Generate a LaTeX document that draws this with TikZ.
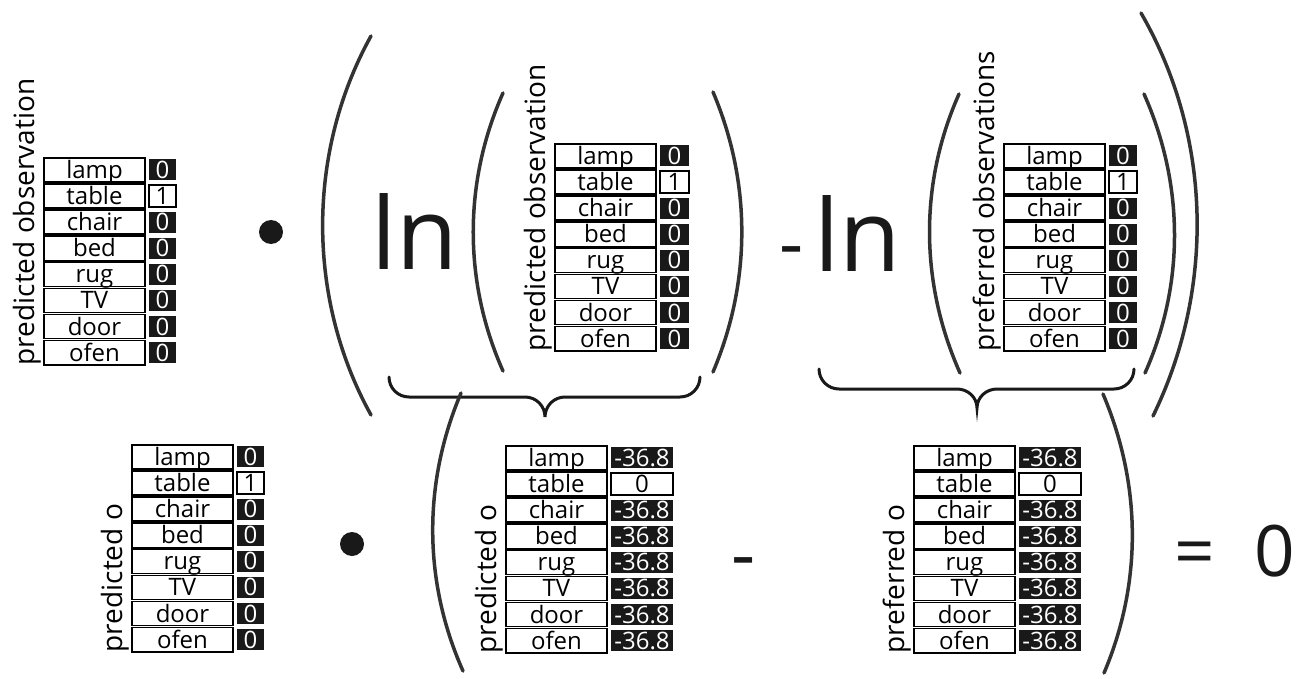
\documentclass[tikz,border=0pt]{standalone}
\usepackage{fontspec}
\setmainfont{Open Sans}
\usepackage{tikz}
\usetikzlibrary{positioning}
\tikzset{
  cellfont/.style={font=\fontsize{24}{28}\selectfont},
  namecell/.style={cellfont, draw, line width=1.6pt, fill=white, minimum width=101pt,
    minimum height=24.2pt, inner sep=0pt, text height=17pt, text depth=0pt},
  offcell/.style={cellfont, fill=black!90, text=white, minimum height=21pt,
    inner sep=0pt, text height=17pt, text depth=0pt},
  oncell/.style={cellfont, draw, line width=1.3pt, fill=white, minimum height=22pt,
    inner sep=0pt, text height=17pt, text depth=0pt},
  obslabel/.style={font=\fontsize{28}{32}\selectfont, rotate=90, anchor=south west, inner sep=0pt},
  paren/.style={line width=3.5pt, draw=black!80, line cap=round, looseness=0.9},
  bracemark/.style={line width=3pt, draw=black!90, line cap=round},
  dotmark/.style={circle, fill=black!90, minimum size=24pt, inner sep=0pt},
  bigtext/.style={anchor=base, inner sep=0pt, text=black!90, font=\fontsize{100}{120}\selectfont},
  signtext/.style={anchor=base, inner sep=0pt, text=black!90, font=\fontsize{75}{90}\selectfont},
  eqtext/.style={anchor=base, inner sep=0pt, text=black!90, font=\fontsize{71}{85}\selectfont},
}
% one column of observations: prefix, x, y, value width, on value, off value, label
\newcommand{\obstab}[7]{%
  \foreach \w [count=\i from 0] in {lamp,table,chair,bed,rug,TV,door,ofen}{
    \node[namecell] (#1-\i) at (#2+50.5, #3+12.9+\i*26.1) {\w};
    \ifnum\i=1
      \node[oncell, minimum width=#4pt, right=2.5pt of #1-\i] (#1v-\i) {#5};
    \else
      \node[offcell, minimum width=#4pt, right=3pt of #1-\i] (#1v-\i) {#6};
    \fi
  }
  \node[obslabel] (#1-lab) at ([xshift=-2pt]#1-7.south west) {#7};
}

\begin{document}
\begin{tikzpicture}[x=1pt, y=-1pt]
    \useasboundingbox (0,0) rectangle (1308,679);
    % top row
    \obstab{po}{44}{157}{27}{1}{0}{predicted observation}
    \node[dotmark] (dot1) at (271,232) {};
    \draw[paren](371,36) to[out=241, in=119] (371,415);
    \node[bigtext] (ln1) at (415,269) {ln};
    \draw[paren](503,93) to[out=246, in=114] (503,371);
    \obstab{lpo}{555}{143}{29}{1}{0}{predicted observation}
    \draw[paren](713,92) to[out=293, in=67] (713,372);
    \node[signtext] (minus1) at (792,269) {-};
    \node[bigtext] (ln2) at (858,271) {ln};
    \draw[paren](959,94) to[out=246, in=114] (960,373);
    \obstab{lpr}{1004}{143}{28}{1}{0}{preferred observations}
    \draw[paren](1144,94) to[out=294, in=66] (1145,373);
    \draw[paren](1141,13) to[out=300, in=64] (1153,416);
    % braces
    \draw[bracemark](389,377) to[out=-90, in=180] (409,397) -- (525,397)
        to[out=0, in=90] (545,417) to[out=90, in=180] (565,397) -- (680,397)
        to[out=0, in=-90] (700,377);
    \draw[bracemark](819,369) to[out=-90, in=180] (839,389) -- (957,389)
        to[out=0, in=90] (977,408) to[out=90, in=180] (997,389) -- (1114,389)
        to[out=0, in=-90] (1134,369);
    % bottom row
    \obstab{bpo}{132}{444}{27}{1}{0}{predicted o}
    \node[dotmark] (dot2) at (352,544) {};
    \draw[paren](461,393) to[out=247, in=114] (463,671);
    \obstab{blpo}{506}{445}{62}{0}{-36.8}{predicted o}
    \node[signtext] (minus2) at (744,580) {-};
    \obstab{blpr}{914}{445}{62}{0}{-36.8}{preferred o}
    \draw[paren](1103,394) to[out=293, in=67] (1104,673);
    \node[eqtext] (eq) at (1195,576) {=};
    \node[eqtext] (zero) at (1274.5,576) {0};
\end{tikzpicture}
\end{document}
